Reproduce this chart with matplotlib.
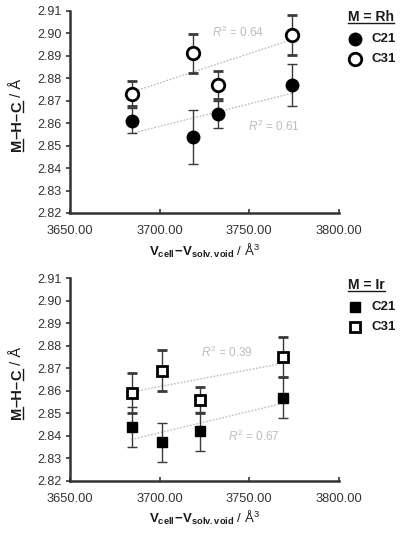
import numpy as np
import matplotlib
matplotlib.use("Agg")
import matplotlib.pyplot as plt
from matplotlib.font_manager import FontProperties
from matplotlib.lines import Line2D
from matplotlib.transforms import IdentityTransform

plt.rcParams['font.family'] = ['Liberation Sans', 'DejaVu Sans']
plt.rcParams['mathtext.fontset'] = 'custom'
plt.rcParams['mathtext.rm'] = 'Liberation Sans'
plt.rcParams['mathtext.bf'] = 'Liberation Sans:bold'
plt.rcParams['mathtext.it'] = 'Liberation Sans:italic'

# Rh data
rh_x = [3684.4, 3718.7, 3732.6, 3773.7]
rh_c21 = [2.861, 2.854, 2.864, 2.877]
rh_c21_err = [0.0055, 0.012, 0.006, 0.0093]
rh_c31 = [2.873, 2.891, 2.877, 2.899]
rh_c31_err = [0.0055, 0.0087, 0.0063, 0.0089]
rh_r2 = ["0.61", "0.64"]

# Ir data
ir_x = [3684.3, 3701.3, 3722.4, 3769.0]
ir_c21 = [2.844, 2.837, 2.842, 2.857]
ir_c21_err = [0.009, 0.0087, 0.0086, 0.009]
ir_c31 = [2.859, 2.869, 2.856, 2.875]
ir_c31_err = [0.009, 0.009, 0.0058, 0.009]
ir_r2 = ["0.67", "0.39"]

series = ["C21", "C31"]
xticks = [3650, 3700, 3750, 3800]
yticks = [2.82, 2.83, 2.84, 2.85, 2.86, 2.87, 2.88, 2.89, 2.90, 2.91]

W, H = 403, 533
fig = plt.figure(figsize=(W / 100, H / 100), dpi=100)
ax1 = fig.add_axes([0.1737, 0.6004, 0.6675, 0.3796])
ax2 = fig.add_axes([0.1737, 0.0981, 0.6675, 0.3797])
renderer = fig.canvas.get_renderer()

axis_col = '#333333'
trend_col = '#bdbdbd'
text_col = '#1a1a1a'


def text_width(s, size, weight):
    fp = FontProperties(family=['Liberation Sans'], size=size, weight=weight)
    w, h, d = renderer.get_text_width_height_descent(s, fp, ismath=False)
    return w


def rich_label(x, y, pieces, size, vertical=False, center=True):
    # pieces: (text, weight, underline); x, y in pixels from top-left
    widths = [text_width(s, size, w) for s, w, u in pieces]
    total = sum(widths)
    px = size * 100 / 72
    pos = (H - y) - total / 2 if vertical else (x - total / 2 if center else x)
    for (s, w, u), wd in zip(pieces, widths):
        if vertical:
            fig.text(x, pos, s, transform=IdentityTransform(), fontsize=size, fontweight=w,
                     rotation=90, rotation_mode='anchor', ha='left', va='baseline', color=text_col)
            if u:
                fig.add_artist(Line2D([x + 0.13 * px] * 2, [pos, pos + wd], color=text_col,
                                      lw=1.0, transform=IdentityTransform()))
        else:
            fig.text(pos, H - y, s, transform=IdentityTransform(), fontsize=size, fontweight=w,
                     ha='left', va='baseline', color=text_col)
            if u:
                fig.add_artist(Line2D([pos, pos + wd], [H - y - 0.14 * px] * 2, color=text_col,
                                      lw=1.0, transform=IdentityTransform()))
        pos += wd


def trend(ax, x, y):
    p = np.polyfit(x, y, 1)
    xs = np.array([min(x), max(x)])
    ax.plot(xs, np.polyval(p, xs), ls=(0, (1.2, 1.2)), color=trend_col, lw=1.0, zorder=1)


def panel(ax, x, c21, e21, c31, e31, marker, ms, r2, r2pos):
    trend(ax, x, c21)
    trend(ax, x, c31)
    ax.errorbar(x, c21, yerr=e21, fmt=marker, ms=ms, mfc='black', mec='black',
                ecolor='#3a3a3a', elinewidth=1.0, capsize=3.5, capthick=1.0, zorder=3)
    ax.errorbar(x, c31, yerr=e31, fmt=marker, ms=ms, mfc='white', mec='black', mew=2.0,
                ecolor='#3a3a3a', elinewidth=1.0, capsize=3.5, capthick=1.0, zorder=3)
    ax.set_xlim(3650, 3800)
    ax.set_ylim(2.82, 2.91)
    ax.set_xticks(xticks)
    ax.set_xticklabels([f"{t:.2f}" for t in xticks])
    ax.set_yticks(yticks)
    ax.set_yticklabels([f"{t:.2f}" for t in yticks])
    for s in ['top', 'right']:
        ax.spines[s].set_visible(False)
    for s in ['left', 'bottom']:
        ax.spines[s].set_color(axis_col)
        ax.spines[s].set_linewidth(1.8)
    ax.tick_params(axis='y', direction='out', length=3, width=1.2, color=axis_col,
                   labelsize=9, labelcolor='#333333', pad=3)
    ax.tick_params(axis='x', direction='in', length=3, width=1.2, color=axis_col,
                   labelsize=9.3, labelcolor='#333333', pad=9)
    ax.set_xlabel(r'$\mathbf{V_{cell}\!-\!V_{solv.void}}$ / Å$^3$', fontsize=9.5,
                  labelpad=3, color=text_col)
    for txt, (tx, ty) in zip(r2, r2pos):
        ax.text(tx, ty, r'$R^2$ = ' + txt, color=trend_col, fontsize=8.5, ha='left', va='center')


def legend(title, marker, ms, top):
    rich_label(348, top + 4.8, [(title, 'bold', True)], 10, center=False)
    for i, (name, fc) in enumerate(zip(series, ['black', 'white'])):
        yy = H - (top + 23 + 19.5 * i)
        fig.add_artist(Line2D([355], [yy], marker=marker, ms=ms, mfc=fc, mec='black',
                              mew=2.0 if fc == 'white' else 1.0, transform=IdentityTransform()))
        fig.text(372, yy, name, transform=IdentityTransform(), fontsize=9.5, fontweight='bold',
                 va='center', ha='left', color=text_col)


panel(ax1, rh_x, rh_c21, rh_c21_err, rh_c31, rh_c31_err, 'o', 9,
      rh_r2, [(3749.4, 2.8587), (3729.4, 2.9004)])
panel(ax2, ir_x, ir_c21, ir_c21_err, ir_c31, ir_c31_err, 's', 7.5,
      ir_r2, [(3738.3, 2.8396), (3722.8, 2.8769)])

ylab = [("M", 'bold', True), ("–H–", 'bold', False), ("C", 'bold', True), (" / Å", 'normal', False)]
rich_label(21, 115, ylab, 10.5, vertical=True)
rich_label(21, 383, ylab, 10.5, vertical=True)

legend("M = Rh", 'o', 9, 16)
legend("M = Ir", 's', 7.5, 284)

fig.savefig('out.png', dpi=100)
